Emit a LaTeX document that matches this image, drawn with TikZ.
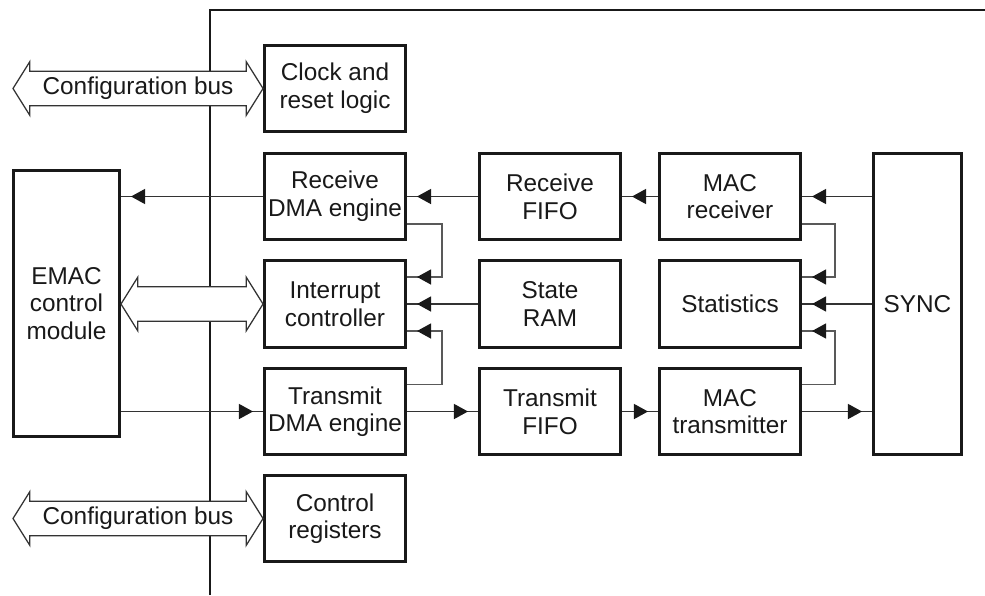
\documentclass[tikz,border=0pt]{standalone}
\usepackage{fontspec}
\setmainfont{Liberation Sans}
\usetikzlibrary{arrows.meta,calc,decorations.markings,positioning}
\tikzset{blk/.style={draw=black!90,line width=1.2pt,fill=white,text=black!90,align=center,
                     minimum width=1.974cm,minimum height=1.218cm,inner sep=1pt},
         conn/.style={draw,color=black!80,line width=0.5pt,
                      decoration={markings,
                          mark=at position -4pt with {\arrow[black!90]{Triangle[length=5.6pt,width=6pt]}}
                      },
                      postaction={decorate}},
         irqline/.style={conn,color=black!65},
         bus/.style={draw=black!80,line width=0.5pt,fill=white}}
\newcommand{\busarrow}[2]{%
    \draw[bus] let \p1=(#1), \p2=(#2) in
        (\x1,\y1) -- (\x1+6.7pt,\y1+10.7pt) -- (\x1+6.7pt,\y1+6.9pt)
        -- (\x2-6.7pt,\y1+6.9pt) -- (\x2-6.7pt,\y1+10.7pt) -- (\x2,\y1)
        -- (\x2-6.7pt,\y1-10.7pt) -- (\x2-6.7pt,\y1-6.9pt)
        -- (\x1+6.7pt,\y1-6.9pt) -- (\x1+6.7pt,\y1-10.7pt) -- cycle;}

\begin{document}
\begin{tikzpicture}[x=0.014cm,y=-0.014cm,
                    every node/.style={font=\fontsize{9.7pt}{11pt}\selectfont}]
                \useasboundingbox (0,0) rectangle (985,595);
                \draw[line width=0.8pt,black!90] (210,595) -- (210,10) -- (985,10);

                \node[blk] (clk)    at (335,88.5)  {Clock and\\reset logic};
                \node[blk] (rxdma)  at (335,196.5) {Receive\\DMA engine};
                \node[blk] (intc)   at (335,304)   {Interrupt\\controller};
                \node[blk] (txdma)  at (335,411.5) {Transmit\\DMA engine};
                \node[blk] (ctrl)   at (335,518.5) {Control\\registers};
                \node[blk] (rxfifo) at (550,196.5) {Receive\\FIFO};
                \node[blk] (sram)   at (550,304)   {State\\RAM};
                \node[blk] (txfifo) at (550,411.5) {Transmit\\FIFO};
                \node[blk] (macrx)  at (730,196.5) {MAC\\receiver};
                \node[blk] (stats)  at (730,304)   {Statistics};
                \node[blk] (mactx)  at (730,411.5) {MAC\\transmitter};
                \node[blk,minimum width=1.232cm,minimum height=4.214cm] (sync) at (917.5,304) {SYNC};
                \node[blk,minimum width=1.484cm,minimum height=3.724cm] (emac) at (66.5,303.5)
                    {EMAC\\control\\module};

                \coordinate (cfgtop) at (13,88.5);
                \coordinate (cfgbot) at (13,518.5);
                \busarrow{cfgtop}{clk.west}
                \busarrow{cfgbot}{ctrl.west}
                \busarrow{emac.east |- intc}{intc.west}
                \node[text=black!90] (cfgtoplbl) at ($(cfgtop)!0.5!(clk.west)$) {Configuration bus};
                \node[text=black!90] (cfgbotlbl) at ($(cfgbot)!0.5!(ctrl.west)$) {Configuration bus};

                \draw[conn] (sync.west |- macrx) -- (macrx.east);
                \draw[conn] (macrx.west) -- (rxfifo.east);
                \draw[conn] (rxfifo.west) -- (rxdma.east);
                \draw[conn] (rxdma.west) -- (emac.east |- rxdma);
                \draw[conn] (sync.west |- stats) -- (stats.east);
                \draw[conn] (sram.west) -- (intc.east);
                \draw[conn] (emac.east |- txdma) -- (txdma.west);
                \draw[conn] (txdma.east) -- (txfifo.west);
                \draw[conn] (txfifo.east) -- (mactx.west);
                \draw[conn] (mactx.east) -- (sync.west |- mactx);

                \draw[irqline] ($(rxdma.east)+(0,27.5)$) -- ++(35,0) |- ($(intc.east)+(0,-27)$);
                \draw[irqline] ($(txdma.east)+(0,-27)$) -- ++(35,0) |- ($(intc.east)+(0,27)$);
                \draw[irqline] ($(macrx.east)+(0,27.5)$) -- ++(33,0) |- ($(stats.east)+(0,-27)$);
                \draw[irqline] ($(mactx.east)+(0,-27)$) -- ++(33,0) |- ($(stats.east)+(0,27)$);
\end{tikzpicture}
\end{document}
